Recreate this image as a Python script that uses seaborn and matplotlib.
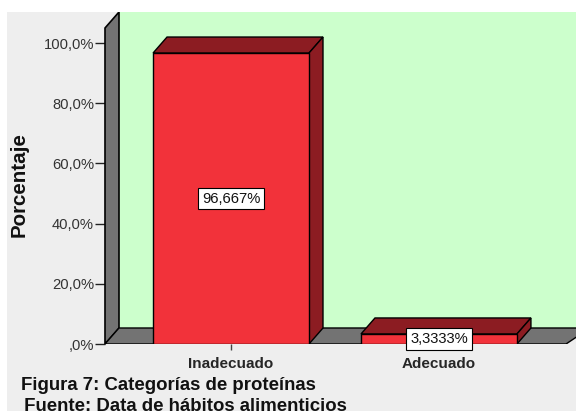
import matplotlib
matplotlib.use("Agg")
import matplotlib.pyplot as plt
from matplotlib.patches import Polygon, Rectangle
import pandas as pd
import seaborn as sns

categories = ["Inadecuado", "Adecuado"]
percentages = [96.667, 3.3333]
value_labels = ["96,667%", "3,3333%"]
y_ticks = [0, 20, 40, 60, 80, 100]
y_tick_labels = [",0%", "20,0%", "40,0%", "60,0%", "80,0%", "100,0%"]
caption_lines = ["Figura 7: Categorías de proteínas", " Fuente: Data de hábitos alimenticios"]

RED = "#f2323a"
DARK_RED = "#8c1c22"
GREEN = "#ccffcc"
GREY = "#737373"
PANEL = "#eeeeee"
W, H = 576, 411

sns.set_style("white")
plt.rcParams["font.family"] = ["Liberation Sans", "DejaVu Sans"]

fig = plt.figure(figsize=(W / 100, H / 100), dpi=100, facecolor=PANEL)
fig.add_artist(Rectangle((0, 1 - 12 / H), 1, 12 / H, transform=fig.transFigure, fc="white", ec="none"))
fig.add_artist(Rectangle((0, 0), 7 / W, 1, transform=fig.transFigure, fc="white", ec="none"))

ax = fig.add_axes([105 / W, (H - 344) / H, (W - 105) / W, (344 - 12) / H])
ax.patch.set_alpha(0)
sns.despine(ax=ax, left=True, bottom=True, right=True, top=True)

df = pd.DataFrame({"categoria": categories, "porcentaje": percentages})
bar_width = 0.75
sns.barplot(data=df, x="categoria", y="porcentaje", color=RED, saturation=1, width=bar_width,
            edgecolor="black", linewidth=1, ax=ax, zorder=5)

x0, x1 = -0.606, 1.659
y1 = 110.3
ax.set_xlim(x0, x1)
ax.set_ylim(0, y1)

# Oblique offset of the pseudo-3D depth, in data units
dx = 14 / 208
dy = 16 / 3.01

# Back wall, side wall and floor
ax.add_patch(Polygon([(x0 + dx, dy), (x1, dy), (x1, y1), (x0 + dx, y1)], fc=GREEN, ec="none", zorder=1))
ax.add_patch(Polygon([(x0, 0), (x0 + dx, dy), (x0 + dx, y1), (x0, y1 - dy)], fc=GREY, ec="black", lw=1.2,
                     zorder=2, clip_on=False))
ax.add_patch(Polygon([(x0, 0), (x0 + dx, dy), (x1 + dx, dy), (x1 - 0.048, 0)], fc=GREY, ec="black", lw=1,
                     zorder=2))

# Top and side faces of each bar, then the value box
for i, (value, text) in enumerate(zip(percentages, value_labels)):
    left, right = i - bar_width / 2, i + bar_width / 2
    ax.add_patch(Polygon([(left, value), (left + dx, value + dy), (right + dx, value + dy), (right, value)],
                         fc=DARK_RED, ec="black", lw=1, zorder=4))
    ax.add_patch(Polygon([(right, 0), (right + dx, dy), (right + dx, value + dy), (right, value)],
                         fc=DARK_RED, ec="black", lw=1, zorder=4))
    ax.text(i, value / 2, text, ha="center", va="center", fontsize=10.6, color="#111111", zorder=8,
            bbox=dict(fc="white", ec="black", lw=0.8, boxstyle="square,pad=0.25"))

ax.set_yticks(y_ticks, y_tick_labels)
ax.tick_params(axis="y", left=True, length=7, width=1, color="#222222", pad=1,
               labelsize=10.6, labelcolor="#333333")
ax.tick_params(axis="x", bottom=True, length=4.3, width=1, color="#444444", pad=5, labelsize=11)
for label in ax.get_xticklabels():
    label.set_fontweight("bold")
ax.set_xlabel("")
ax.set_ylabel("")

fig.text(19 / W, 1 - 185 / H, "Porcentaje", rotation=90, ha="center", va="center",
         fontsize=14.8, fontweight="bold", color="#111111")
fig.text(21 / W, 1 - 385 / H, caption_lines[0], ha="left", va="center", fontsize=13.4,
         fontweight="bold", color="#111111")
fig.text(19 / W, 1 - 406 / H, caption_lines[1], ha="left", va="center", fontsize=13.4,
         fontweight="bold", color="#111111")

fig.savefig("out.png", dpi=100, facecolor=fig.get_facecolor())
